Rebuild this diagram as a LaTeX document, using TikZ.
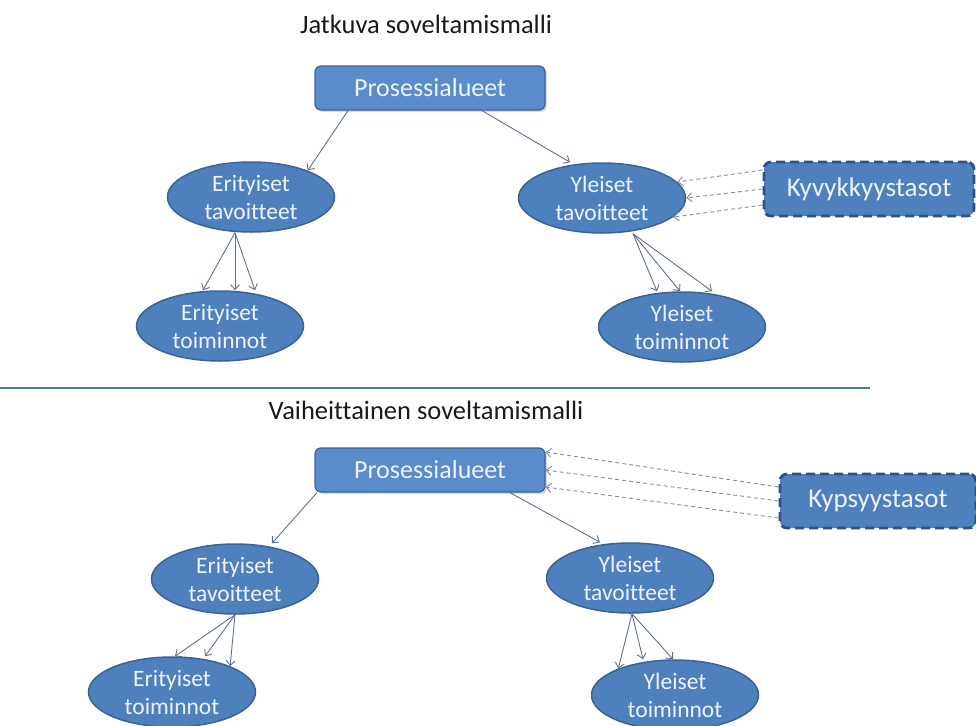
\documentclass[tikz,border=0pt]{standalone}
\usepackage{fontspec}
\setmainfont{Carlito}[Ligatures=NoCommon]
\usetikzlibrary{arrows,arrows.meta,shapes.geometric,shadows}

\begin{document}
\begin{tikzpicture}[x=1pt,y=-1pt,>={Straight Barb[length=5pt,width=9pt]}]
  % Colors
  \definecolor{areafill}{HTML}{5A8BCB}
  \definecolor{goalfill}{HTML}{4F80BE}
  \definecolor{shapeline}{HTML}{3A6294}
  \definecolor{levelline}{HTML}{2E5087}
  \definecolor{labeltext}{HTML}{EEF4FB}
  \definecolor{linkcolor}{HTML}{5C7191}
  \definecolor{dashcolor}{HTML}{7D8DA3}
  \definecolor{rulecolor}{HTML}{4C7F9C}

  % Styles
  \tikzstyle{heading}=[font=\fontsize{26.5}{30}\selectfont,text=black!90]
  \tikzstyle{area box}=[rectangle,rounded corners=6pt,fill=areafill,draw=shapeline,
    line width=1.2pt,text=labeltext,font=\fontsize{26}{30}\selectfont,
    minimum width=230pt,minimum height=44pt,
    drop shadow={opacity=0.3,shadow xshift=2pt,shadow yshift=-2pt}]
  \tikzstyle{goal}=[ellipse,fill=goalfill,draw=shapeline,line width=1.5pt,
    text=labeltext,align=center,inner sep=0pt,minimum width=167pt,
    minimum height=70pt,font=\fontsize{23.5}{28}\selectfont]
  \tikzstyle{level box}=[rectangle,rounded corners=7pt,fill=goalfill,draw=levelline,
    line width=2.8pt,dash pattern=on 9pt off 5pt,text=labeltext,
    font=\fontsize{27}{30}\selectfont,minimum height=54pt]
  \tikzstyle{link}=[->,draw=linkcolor,line width=0.9pt]
  \tikzstyle{level link}=[->,draw=dashcolor,line width=0.9pt,dash pattern=on 4pt off 3pt]

  % The graphic
  \useasboundingbox (0,0) rectangle (976,725);

  % Jatkuva
  \node[heading] (title1) at (426,24) {Jatkuva soveltamismalli};
  \node[area box] (pa1) at (430,88) {Prosessialueet};
  \node[goal] (et1) at (251,197) {Erityiset\\tavoitteet};
  \node[goal] (yt1) at (602,198) {Yleiset\\tavoitteet};
  \node[goal] (etm1) at (220,326) {Erityiset\\toiminnot};
  \node[goal] (ytm1) at (682,327) {Yleiset\\toiminnot};
  \node[level box,minimum width=210pt] (ky) at (869,189) {Kyvykkyystasot};

  \draw[link] ([xshift=-82pt]pa1.south) -- (et1.25);
  \draw[link] ([xshift=52pt]pa1.south) -- ([xshift=-32pt]yt1.north);
  \foreach \s/\t in {-17/-16, 15/-16, 35/-16}
    \draw[link] ([xshift=\t pt]et1.south) -- ([xshift=\s pt]etm1.north);
  \foreach \s in {-25, -2, 30}
    \draw[link] ([xshift=31pt]yt1.south) -- ([xshift=\s pt]ytm1.north);
  \draw[level link] ([yshift=19pt]ky.west) -- (yt1.12);
  \draw[level link] (ky.west) -- (yt1.east);
  \draw[level link] ([yshift=-16pt]ky.west) -- (yt1.-15);

  % separator
  \coordinate (rule0) at (0,388);
  \coordinate (rule1) at (870,388);
  \draw[rulecolor,line width=1.2pt] (rule0) -- (rule1);

  % Vaiheittainen
  \node[heading] (title2) at (426,410) {Vaiheittainen soveltamismalli};
  \node[area box] (pa2) at (430,470) {Prosessialueet};
  \node[goal] (et2) at (235,579) {Erityiset\\tavoitteet};
  \node[goal] (yt2) at (630,578) {Yleiset\\tavoitteet};
  \node[goal] (etm2) at (172,692) {Erityiset\\toiminnot};
  \node[goal] (ytm2) at (675,695) {Yleiset\\toiminnot};
  \node[level box,minimum width=196pt] (kp) at (878,501) {Kypsyystasot};

  \draw[link] ([xshift=-113pt]pa2.south) -- ([xshift=37pt]et2.north);
  \draw[link] ([xshift=80pt]pa2.south) -- ([xshift=-30pt]yt2.north);
  \draw[link] (et2.south) -- ([xshift=3pt]etm2.north);
  \draw[link] (et2.south) -- ([xshift=33pt]etm2.north);
  \draw[link] (et2.south) -- (etm2.24);
  \draw[link] ([xshift=2pt]yt2.south) -- (ytm2.155);
  \draw[link] ([xshift=2pt]yt2.south) -- ([xshift=-32pt]ytm2.north);
  \draw[link] ([xshift=2pt]yt2.south) -- ([xshift=-2pt]ytm2.north);
  \draw[level link] ([yshift=14pt]kp.west) -- ([yshift=18pt]pa2.east);
  \draw[level link] (kp.west) -- (pa2.east);
  \draw[level link] ([yshift=-17pt]kp.west) -- ([yshift=-17pt]pa2.east);
\end{tikzpicture}
\end{document}
